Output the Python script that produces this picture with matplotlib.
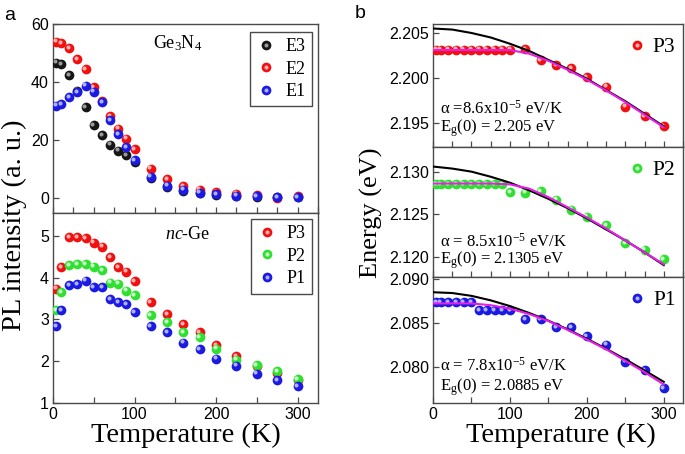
import matplotlib
matplotlib.use("Agg")
import matplotlib.pyplot as plt
from matplotlib.lines import Line2D
from matplotlib.legend_handler import HandlerTuple
from matplotlib.transforms import offset_copy
from matplotlib.ticker import MultipleLocator

plt.rcParams['font.family'] = 'Liberation Sans'
plt.rcParams['mathtext.fontset'] = 'custom'
plt.rcParams['mathtext.rm'] = 'Liberation Serif'
plt.rcParams['mathtext.it'] = 'Liberation Serif:italic'
plt.rcParams['mathtext.bf'] = 'Liberation Serif:bold'
SERIF = 'Liberation Serif'
SANS = 'Liberation Sans'

# ---------------- data ----------------
T = [4, 10, 20, 30, 40, 50, 60, 70, 80, 90, 100, 120, 140, 160, 180, 200, 225, 250, 275, 300]

# Ge3N4 (panel a, top)
E3 = [46.7, 46.1, 42.4, 37.0, 31.4, 25.3, 21.7, 18.5, 16.4, 14.8, 12.4, 7.2, 4.1, 2.7, 1.8, 1.3, 0.8, 0.6, 0.4, 0.4]
E2 = [53.9, 53.5, 51.6, 47.8, 44.4, 38.2, 33.4, 28.2, 24.0, 20.6, 16.9, 10.3, 6.7, 4.3, 3.0, 2.2, 1.6, 1.2, 0.0, 0.7]
E1 = [31.9, 32.5, 34.8, 36.5, 38.8, 36.7, 33.1, 27.0, 22.0, 17.7, 13.2, 7.5, 4.4, 3.0, 2.0, 1.5, 0.9, 0.7, 0.5, 0.5]

# nc-Ge (panel a, bottom)
P3 = [3.74, 4.25, 4.97, 4.97, 4.94, 4.84, 4.74, 4.49, 4.25, 4.14, 3.92, 3.42, 3.12, 2.89, 2.70, 2.38, 2.12, 1.88, 1.72, 1.55]
P2 = [3.22, 3.66, 4.30, 4.32, 4.32, 4.26, 4.18, 3.88, 3.86, 3.69, 3.58, 3.10, 2.94, 2.70, 2.58, 2.30, 2.04, 1.90, 1.76, 1.57]
P1 = [2.84, 3.22, 3.82, 3.85, 3.93, 3.78, 3.77, 3.49, 3.42, 3.36, 3.18, 2.84, 2.70, 2.44, 2.29, 2.06, 1.89, 1.70, 1.54, 1.40]

# peak energies (panel b)
E_P3 = [2.20315, 2.20315, 2.20315, 2.20315, 2.20315, 2.20315, 2.20315, 2.20315, 2.20315, 2.20315, 2.20315,
        2.2032, 2.2020, 2.2014, 2.2011, 2.2001, 2.1990, 2.1968, 2.1957, 2.1946]
E_P2 = [2.1285, 2.1285, 2.1285, 2.1285, 2.1285, 2.1285, 2.1285, 2.1285, 2.1285, 2.1285, 2.1276,
        2.1275, 2.1277, 2.1267, 2.1255, 2.1247, 2.1237, 2.1216, 2.1208, 2.1197]
E_P1 = [2.08735, 2.08735, 2.08735, 2.08735, 2.08735, 2.08735, 2.0864, 2.0864, 2.0864, 2.0864, 2.0864,
        2.0854, 2.0854, 2.0845, 2.0845, 2.0835, 2.0825, 2.0806, 2.0796, 2.0776]

# fit curves
T_fit = [0, 25, 50, 75, 100, 125, 150, 175, 200, 225, 250, 275, 300]
fitK_P3 = [2.2055, 2.20538, 2.2050, 2.2045, 2.2038, 2.2030, 2.2020, 2.2010, 2.1999, 2.19864, 2.1974, 2.1960, 2.1946]
fitM_P3 = [2.2031, 2.2031, 2.2031, 2.2031, 2.2031, 2.2027, 2.2019, 2.2009, 2.1998, 2.1986, 2.1973, 2.1959, 2.1945]
fitK_P2 = [2.1306, 2.13036, 2.1300, 2.1294, 2.1287, 2.1278, 2.1268, 2.1257, 2.1245, 2.1232, 2.1219, 2.1205, 2.1190]
fitM_P2 = [2.1286, 2.1286, 2.1286, 2.1286, 2.1285, 2.1280, 2.1270, 2.1258, 2.1246, 2.1233, 2.1219, 2.1205, 2.1191]
fitK_P1 = [2.08847, 2.08838, 2.08806, 2.08755, 2.0869, 2.08612, 2.08524, 2.08426, 2.08319, 2.08206, 2.08086, 2.0796, 2.0783]
fitM_P1 = [2.0872, 2.0872, 2.0872, 2.0870, 2.0866, 2.0860, 2.0852, 2.0842, 2.0831, 2.0820, 2.0807, 2.0794, 2.0780]

ann_alpha = ['α =8.6x10$^{-5}$ eV/K', 'α = 8.5x10$^{-5}$ eV/K', 'α = 7.8x10$^{-5}$ eV/K']
ann_eg = ['E$_\\mathrm{g}$(0) = 2.205 eV', 'E$_\\mathrm{g}$(0) = 2.1305 eV', 'E$_\\mathrm{g}$(0) = 2.0885 eV']

COL = {'k': ('#151515', '#9a9a9a'), 'r': ('#f01010', '#ffb0b0'),
       'g': ('#30e030', '#c8ffc8'), 'b': ('#1a1ae0', '#b0b0ff')}
SPINE = '#4a4a4a'

fig = plt.figure(figsize=(6.85, 4.54), dpi=100)

def frac(x0, y0, x1, y1):
    W, H = 685.0, 454.0
    return [x0 / W, 1 - y1 / H, (x1 - x0) / W, (y1 - y0) / H]

axA1 = fig.add_axes(frac(53, 24, 318, 213))
axA2 = fig.add_axes(frac(53, 213, 318, 403))
axB1 = fig.add_axes(frac(433, 24, 683, 147))
axB2 = fig.add_axes(frac(433, 147, 683, 277))
axB3 = fig.add_axes(frac(433, 277, 683, 403))

z = [3.0]
def sphere(ax, x, y, key, ms=7.0):
    c, l = COL[key]
    z[0] += 0.2
    ax.plot(x, y, 'o', ms=ms, color=c, mec='none', zorder=z[0])
    ax.plot(x, y, 'o', ms=ms * 0.42, color=l, mec='none', zorder=z[0] + 0.1,
            transform=offset_copy(ax.transData, fig=fig, x=-1.0, y=1.0, units='points'))

def handle(key, ms=7.0):
    c, l = COL[key]
    return (Line2D([], [], marker='o', ls='', ms=ms, color=c, mec='none'),
            Line2D([], [], marker='o', ls='', ms=ms * 0.42, color=l, mec='none'))

def style(ax, xminor):
    for s in ax.spines.values():
        s.set_color(SPINE)
        s.set_linewidth(1.0)
    ax.set_xlim(0, 325)
    ax.xaxis.set_major_locator(MultipleLocator(100))
    ax.xaxis.set_minor_locator(MultipleLocator(xminor))
    ax.tick_params(which='both', direction='in', top=False, right=False, color=SPINE,
                   labelsize=11.5, pad=3)
    ax.tick_params(which='major', length=4, width=0.9)
    ax.tick_params(which='minor', length=4, width=0.9)

HT = {tuple: HandlerTuple(ndivide=1, pad=0)}

# ---- panel a top ----
sphere(axA1, T, E3, 'k')
sphere(axA1, T, E2, 'r')
sphere(axA1, T, E1, 'b')
axA1.set_ylim(-5, 60)
axA1.set_yticks([0, 20, 40, 60])
style(axA1, 25)
axA1.tick_params(labelbottom=False)
axA1.text(0.47, 0.95, 'Ge$_3$N$_4$', transform=axA1.transAxes, ha='center', va='top',
          family=SERIF, fontsize=13)
leg = axA1.legend([handle('k'), handle('r'), handle('b')], ['E3', 'E2', 'E1'],
                  handler_map=HT, loc='upper right', bbox_to_anchor=(0.977, 0.958),
                  borderaxespad=0, prop={'family': SERIF, 'size': 13}, fancybox=False,
                  edgecolor=SPINE, framealpha=1, handlelength=1.0, handletextpad=0.6,
                  labelspacing=0.3, borderpad=0.35)
leg.get_frame().set_linewidth(1.0)

# ---- panel a bottom ----
sphere(axA2, T, P3, 'r')
sphere(axA2, T, P2, 'g')
sphere(axA2, T, P1, 'b')
axA2.set_ylim(1, 5.55)
axA2.set_yticks([1, 2, 3, 4, 5])
style(axA2, 50)
axA2.set_xticks([0, 100, 200, 300])
axA2.text(0.51, 0.93, '$\\mathit{nc}$-Ge', transform=axA2.transAxes, ha='center', va='top',
          family=SERIF, fontsize=13)
leg = axA2.legend([handle('r'), handle('g'), handle('b')], ['P3', 'P2', 'P1'],
                  handler_map=HT, loc='upper right', bbox_to_anchor=(0.977, 0.968),
                  borderaxespad=0, prop={'family': SERIF, 'size': 13}, fancybox=False,
                  edgecolor=SPINE, framealpha=1, handlelength=1.0, handletextpad=0.6,
                  labelspacing=0.3, borderpad=0.35)
leg.get_frame().set_linewidth(1.0)

fig.text(186 / 685, 1 - 442 / 454, 'Temperature (K)', ha='center', va='baseline',
         family=SERIF, fontsize=20.5)
fig.text(14 / 685, 1 - 225 / 454, 'PL intensity (a. u.)', rotation=90, ha='center',
         va='center', family=SERIF, fontsize=20.5)

# ---- panel b ----
panels = [(axB1, E_P3, fitK_P3, fitM_P3, 'r', 'P3', (2.1923, 2.206), [2.195, 2.200, 2.205], 0.268, 0.122, 123),
          (axB2, E_P2, fitK_P2, fitM_P2, 'g', 'P2', (2.1176, 2.1329), [2.120, 2.125, 2.130], 0.23, 0.10, 130),
          (axB3, E_P1, fitK_P1, fitM_P1, 'b', 'P1', (2.0759, 2.0902), [2.080, 2.085, 2.090], 0.26, 0.10, 126)]
for i, (ax, E, fk, fm, key, name, yl, yt, ya, yb, hpx) in enumerate(panels):
    sphere(ax, T, E, key)
    ax.plot(T_fit, fk, color='black', lw=1.5, zorder=10)
    ax.plot(T_fit, fm, color='#e61ee6', lw=1.5, zorder=11)
    ax.set_ylim(*yl)
    ax.set_yticks(yt)
    ax.set_yticklabels(['%.3f' % v for v in yt])
    style(ax, 25 if i < 2 else 50)
    ax.set_xticks([0, 100, 200, 300])
    if i < 2:
        ax.tick_params(labelbottom=False)
    ax.text(0.03, ya, ann_alpha[i], transform=ax.transAxes, ha='left', va='baseline',
            family=SERIF, fontsize=12)
    ax.text(0.03, yb, ann_eg[i], transform=ax.transAxes, ha='left', va='baseline',
            family=SERIF, fontsize=12)
    ax.legend([handle(key)], [name], handler_map=HT,
              loc='center right', bbox_to_anchor=(0.97, 1 - 23.0 / hpx), frameon=False,
              prop={'family': SERIF, 'size': 15.5}, handlelength=0.8, handletextpad=0.35,
              borderaxespad=0.0, borderpad=0.0)

fig.text(561 / 685, 1 - 442 / 454, 'Temperature (K)', ha='center', va='baseline',
         family=SERIF, fontsize=20.5)
fig.text(371 / 685, 1 - 213 / 454, 'Energy (eV)', rotation=90, ha='center', va='center',
         family=SERIF, fontsize=19)

fig.text(10 / 685, 1 - 15 / 454, 'a', family=SANS, fontsize=14, ha='center', va='center')
fig.text(360 / 685, 1 - 14 / 454, 'b', family=SANS, fontsize=14, ha='center', va='center')

fig.savefig('out.png', dpi=100)
